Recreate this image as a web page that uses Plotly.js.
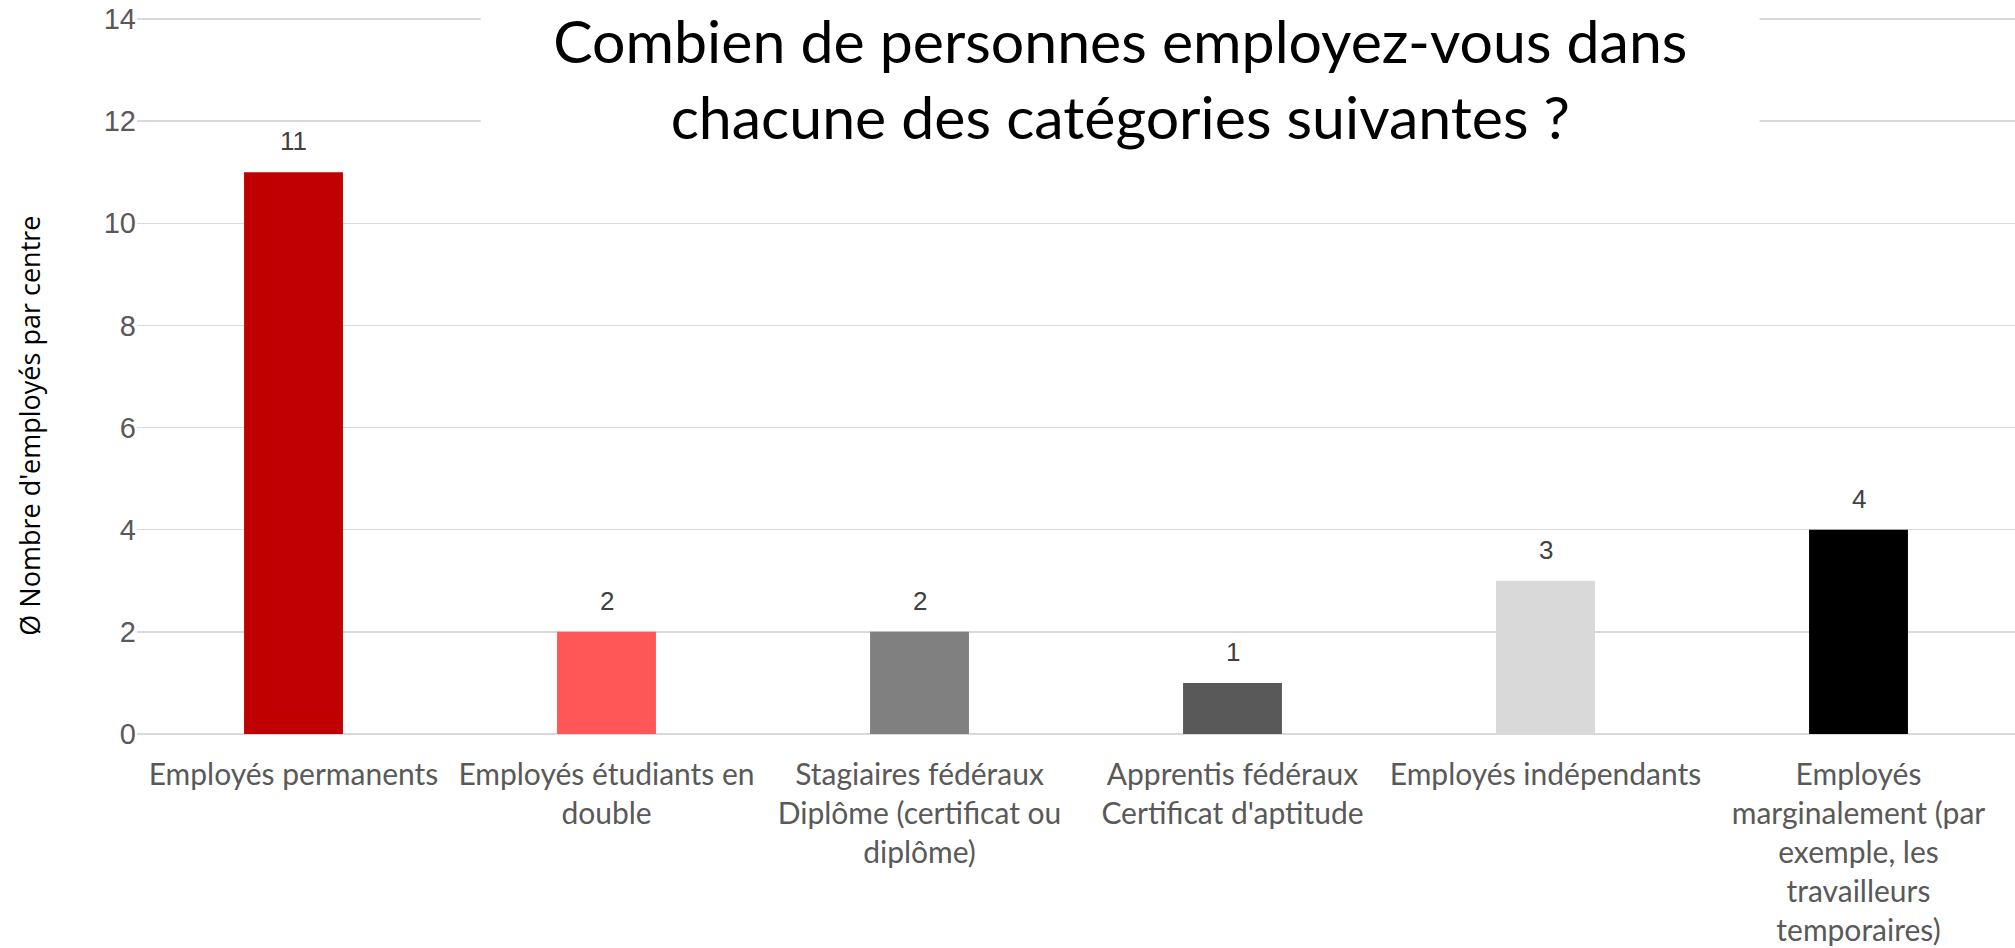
<!DOCTYPE html>
<html>
<head>
<meta charset="utf-8">
<script src="https://cdn.plot.ly/plotly-3.0.1.min.js"></script>
<style>html,body{margin:0;padding:0;background:#fff;}#chart{width:2015px;height:948px;}</style>
</head>
<body>
<div id="chart"></div>
<script>
const categories = [
  "Employés permanents",
  "Employés étudiants en double",
  "Stagiaires fédéraux Diplôme (certificat ou diplôme)",
  "Apprentis fédéraux Certificat d'aptitude",
  "Employés indépendants",
  "Employés marginalement (par exemple, les travailleurs temporaires)"
];
const tickLabels = [
  "Employés permanents",
  "Employés étudiants en<br>double",
  "Stagiaires fédéraux<br>Diplôme (certificat ou<br>diplôme)",
  "Apprentis fédéraux<br>Certificat d'aptitude",
  "Employés indépendants",
  "Employés<br>marginalement (par<br>exemple, les<br>travailleurs<br>temporaires)"
];
const values = [11, 2, 2, 1, 3, 4];
const barColors = ["#C00000", "#FF5757", "#808080", "#595959", "#D9D9D9", "#000000"];
const titleText = "Combien de personnes employez-vous dans<br>chacune des catégories suivantes ?";
const yTitle = "Ø Nombre d'employés par centre";
const yTicks = [0, 2, 4, 6, 8, 10, 12, 14];

const trace = {
  type: "bar",
  x: categories,
  y: values,
  marker: {color: barColors},
  hoverinfo: "x+y",
  showlegend: false
};

const labelAnnotations = categories.map((c, i) => ({
  x: c, y: values[i], xref: "x", yref: "y",
  text: String(values[i]), showarrow: false,
  yanchor: "bottom", yshift: 14,
  font: {family: "Liberation Sans, Arial, sans-serif", size: 26, color: "#404040"}
}));

const layout = {
  width: 2015, height: 948,
  margin: {l: 137, r: 0, t: 17, b: 214},
  paper_bgcolor: "#ffffff",
  plot_bgcolor: "#ffffff",
  bargap: 0.684,
  title: {
    text: titleText,
    x: 0.556, xref: "container", xanchor: "center",
    y: 0.934, yref: "container", yanchor: "middle",
    font: {family: "Lato, sans-serif", size: 59, color: "#000000"}
  },
  xaxis: {
    type: "category",
    tickvals: categories,
    ticktext: tickLabels,
    tickfont: {family: "Lato, sans-serif", size: 30, color: "#595959"},
    ticks: "", ticklen: 0,
    ticklabelstandoff: 20,
    showline: false, showgrid: false,
    automargin: false
  },
  yaxis: {
    range: [0, 14.04],
    tickvals: yTicks,
    tickfont: {family: "Liberation Sans, Arial, sans-serif", size: 29, color: "#595959"},
    gridcolor: "#D9D9D9", gridwidth: 1.5,
    zeroline: true, zerolinecolor: "#D9D9D9", zerolinewidth: 2,
    showline: false, ticks: "",
    automargin: false
  },
  shapes: [{
    type: "rect", xref: "paper", yref: "paper",
    x0: 0.183, x1: 0.864, y0: 0.84, y1: 1.05,
    fillcolor: "#ffffff", line: {width: 0}, layer: "above"
  }],
  annotations: labelAnnotations.concat([{
    text: yTitle, textangle: -90, showarrow: false,
    xref: "paper", yref: "paper",
    x: -0.057, y: 0.43, xanchor: "center", yanchor: "middle",
    font: {family: "Open Sans, sans-serif", size: 27, color: "#000000"}
  }])
};

Plotly.newPlot("chart", [trace], layout, {displayModeBar: false, staticPlot: true});
</script>
</body>
</html>
